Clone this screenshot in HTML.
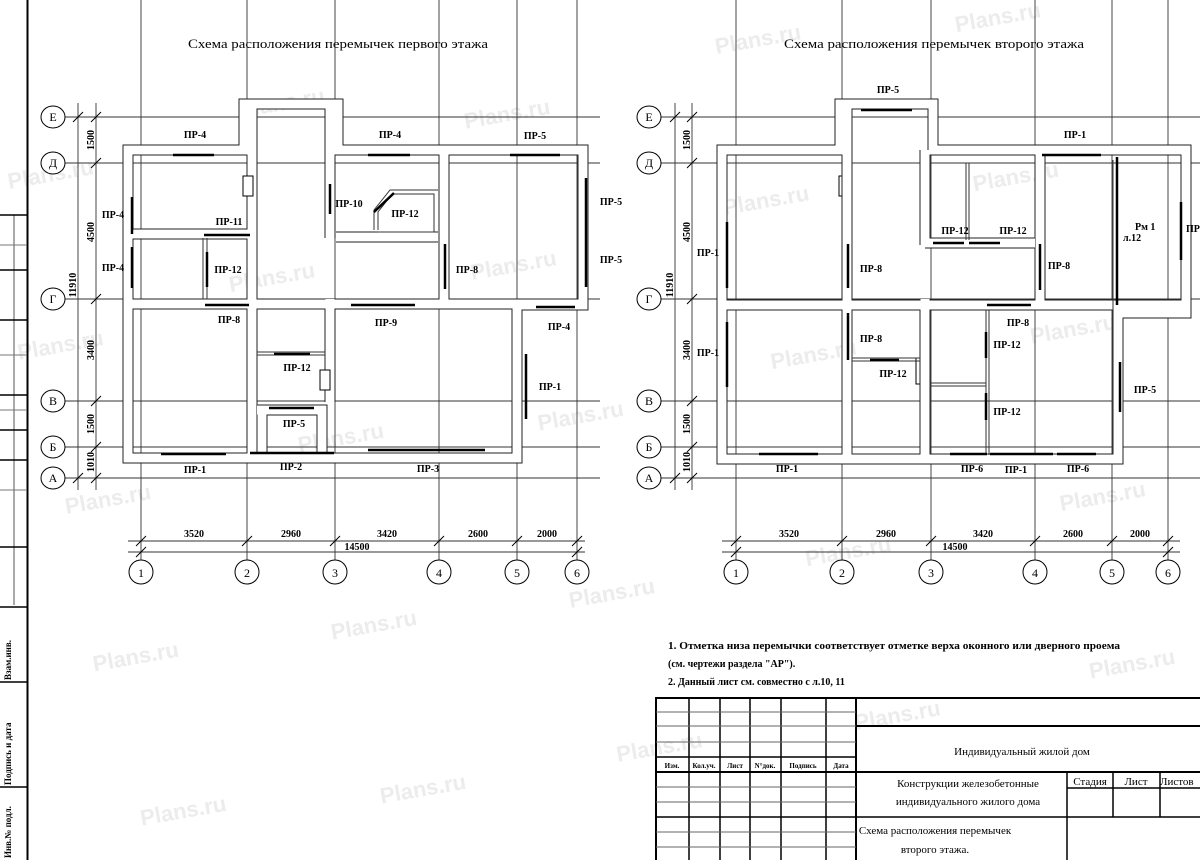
<!DOCTYPE html>
<html><head><meta charset="utf-8">
<style>
html,body{margin:0;padding:0;background:#fff;width:1200px;height:860px;overflow:hidden;}
svg{display:block;}
text{font-family:"Liberation Serif","Noto Serif CJK SC",serif;fill:#000;}
.lb{font-size:10px;font-weight:bold;}
.dm{font-size:10px;font-weight:bold;}
.ax{font-size:12px;}
.wm{font-family:"Liberation Sans",sans-serif;font-size:22px;font-weight:bold;fill:#ececec;}
</style></head><body>
<svg width="1200" height="860" viewBox="0 0 1200 860" xmlns="http://www.w3.org/2000/svg">
<rect width="1200" height="860" fill="#fff"/>
<g transform="rotate(-10 600 430)">
<text class="wm" x="60" y="90">Plans.ru</text><text class="wm" x="300" y="60">Plans.ru</text><text class="wm" x="520" y="110">Plans.ru</text><text class="wm" x="780" y="80">Plans.ru</text><text class="wm" x="1020" y="100">Plans.ru</text>
<text class="wm" x="40" y="260">Plans.ru</text><text class="wm" x="260" y="230">Plans.ru</text><text class="wm" x="500" y="260">Plans.ru</text><text class="wm" x="760" y="240">Plans.ru</text><text class="wm" x="1010" y="260">Plans.ru</text>
<text class="wm" x="60" y="420">Plans.ru</text><text class="wm" x="300" y="400">Plans.ru</text><text class="wm" x="540" y="420">Plans.ru</text><text class="wm" x="780" y="400">Plans.ru</text><text class="wm" x="1040" y="420">Plans.ru</text>
<text class="wm" x="60" y="580">Plans.ru</text><text class="wm" x="300" y="590">Plans.ru</text><text class="wm" x="540" y="600">Plans.ru</text><text class="wm" x="780" y="600">Plans.ru</text><text class="wm" x="1040" y="590">Plans.ru</text>
<text class="wm" x="80" y="740">Plans.ru</text><text class="wm" x="320" y="760">Plans.ru</text><text class="wm" x="560" y="760">Plans.ru</text><text class="wm" x="800" y="770">Plans.ru</text><text class="wm" x="1040" y="760">Plans.ru</text>
</g>

<g stroke="#000" fill="none">
<line x1="27.5" y1="0" x2="27.5" y2="860" stroke-width="2"/>
<line x1="14" y1="215" x2="14" y2="605" stroke-width="1" stroke="#555"/>
<g stroke-width="1.5">
<line x1="0" y1="215" x2="27" y2="215"/><line x1="0" y1="270" x2="27" y2="270"/><line x1="0" y1="320" x2="27" y2="320"/><line x1="0" y1="395" x2="27" y2="395"/><line x1="0" y1="430" x2="27" y2="430"/><line x1="0" y1="460" x2="27" y2="460"/><line x1="0" y1="547" x2="27" y2="547"/><line x1="0" y1="607" x2="27" y2="607"/><line x1="0" y1="682" x2="27" y2="682"/><line x1="0" y1="787" x2="27" y2="787"/>
</g>
<g stroke-width="1" stroke="#777"><line x1="0" y1="245" x2="27" y2="245"/><line x1="0" y1="355" x2="27" y2="355"/><line x1="0" y1="410" x2="27" y2="410"/><line x1="0" y1="490" x2="27" y2="490"/></g>
</g>
<text transform="translate(11 680) rotate(-90)" style="font-size:9px;font-weight:bold">Взам.инв.</text>
<text transform="translate(11 785) rotate(-90)" style="font-size:9px;font-weight:bold">Подпись и дата</text>
<text transform="translate(11 858) rotate(-90)" style="font-size:9px;font-weight:bold">Инв.№ подл.</text>

<text x="188" y="48" style="font-size:13px" textLength="300" lengthAdjust="spacingAndGlyphs">Схема расположения перемычек первого этажа</text>
<text x="784" y="48" style="font-size:13px" textLength="300" lengthAdjust="spacingAndGlyphs">Схема расположения перемычек второго этажа</text>

<!-- LEFT PLAN -->
<g stroke="#333" stroke-width="0.9" fill="none">
<line x1="141" y1="0" x2="141" y2="560"/><line x1="247" y1="0" x2="247" y2="560"/><line x1="335" y1="0" x2="335" y2="560"/><line x1="439" y1="0" x2="439" y2="560"/><line x1="517" y1="0" x2="517" y2="560"/><line x1="577" y1="0" x2="577" y2="560"/>
<line x1="65" y1="117" x2="600" y2="117"/><line x1="65" y1="163" x2="600" y2="163"/><line x1="65" y1="299" x2="600" y2="299"/><line x1="65" y1="401" x2="600" y2="401"/><line x1="65" y1="447" x2="600" y2="447"/><line x1="65" y1="478" x2="600" y2="478"/>
<line x1="78" y1="103" x2="78" y2="490"/><line x1="96" y1="103" x2="96" y2="490"/>
<line x1="128" y1="541" x2="585" y2="541"/><line x1="128" y1="552" x2="585" y2="552"/>
</g>
<g stroke="#000" stroke-width="1">
<line x1="73" y1="122" x2="83" y2="112"/><line x1="73" y1="483" x2="83" y2="473"/>
<line x1="91" y1="122" x2="101" y2="112"/><line x1="91" y1="168" x2="101" y2="158"/><line x1="91" y1="304" x2="101" y2="294"/><line x1="91" y1="406" x2="101" y2="396"/><line x1="91" y1="452" x2="101" y2="442"/><line x1="91" y1="483" x2="101" y2="473"/>
<line x1="136" y1="546" x2="146" y2="536"/><line x1="242" y1="546" x2="252" y2="536"/><line x1="330" y1="546" x2="340" y2="536"/><line x1="434" y1="546" x2="444" y2="536"/><line x1="512" y1="546" x2="522" y2="536"/><line x1="572" y1="546" x2="582" y2="536"/>
<line x1="136" y1="557" x2="146" y2="547"/><line x1="572" y1="557" x2="582" y2="547"/>
</g>
<g fill="#fff" stroke="#000" stroke-width="1">
<ellipse cx="53" cy="117" rx="12" ry="11"/><ellipse cx="53" cy="163" rx="12" ry="11"/><ellipse cx="53" cy="299" rx="12" ry="11"/><ellipse cx="53" cy="401" rx="12" ry="11"/><ellipse cx="53" cy="447" rx="12" ry="11"/><ellipse cx="53" cy="478" rx="12" ry="11"/>
<ellipse cx="141" cy="572" rx="12" ry="12"/><ellipse cx="247" cy="572" rx="12" ry="12"/><ellipse cx="335" cy="572" rx="12" ry="12"/><ellipse cx="439" cy="572" rx="12" ry="12"/><ellipse cx="517" cy="572" rx="12" ry="12"/><ellipse cx="577" cy="572" rx="12" ry="12"/>
</g>
<g class="ax" text-anchor="middle">
<text x="53" y="121">Е</text><text x="53" y="167">Д</text><text x="53" y="303">Г</text><text x="53" y="405">В</text><text x="53" y="451">Б</text><text x="53" y="482">А</text>
<text x="141" y="577">1</text><text x="247" y="577">2</text><text x="335" y="577">3</text><text x="439" y="577">4</text><text x="517" y="577">5</text><text x="577" y="577">6</text>
</g>
<g class="dm" text-anchor="middle">
<text x="194" y="537">3520</text><text x="291" y="537">2960</text><text x="387" y="537">3420</text><text x="478" y="537">2600</text><text x="547" y="537">2000</text><text x="357" y="550">14500</text>
<text transform="translate(94 140) rotate(-90)">1500</text><text transform="translate(94 232) rotate(-90)">4500</text><text transform="translate(94 350) rotate(-90)">3400</text><text transform="translate(94 424) rotate(-90)">1500</text><text transform="translate(94 462) rotate(-90)">1010</text><text transform="translate(76 285) rotate(-90)">11910</text>
</g>
<g fill="none" stroke-linejoin="miter">
<g stroke="#222" stroke-width="11">
<path d="M128 458 L128 150 L244 150 L244 104 L338 104 L338 150 L583 150 L583 305 L517 305 L517 458 Z"/>
<path d="M252 104 L252 458"/><path d="M330 104 L330 238"/><path d="M330 299 L330 402"/>
<path d="M128 304 L583 304"/><path d="M128 234 L252 234"/><path d="M444 150 L444 305"/>
<path d="M336 237 L438 237"/><path d="M257 410 L322 410 L322 458"/><path d="M262 410 L262 458"/>
</g>
<g stroke="#fff" stroke-width="9">
<path d="M128 458 L128 150 L244 150 L244 104 L338 104 L338 150 L583 150 L583 305 L517 305 L517 458 Z"/>
<path d="M252 104 L252 458"/><path d="M330 104 L330 238"/><path d="M330 299 L330 402"/>
<path d="M128 304 L583 304"/><path d="M128 234 L252 234"/><path d="M444 150 L444 305"/>
<path d="M336 237 L438 237"/><path d="M257 410 L322 410 L322 458"/><path d="M262 410 L262 458"/>
</g>
<g stroke="#333" stroke-width="1">
<line x1="207" y1="238" x2="207" y2="299"/><line x1="203" y1="238" x2="203" y2="299"/>
<line x1="257" y1="352" x2="325" y2="352"/><line x1="257" y1="355" x2="325" y2="355"/>
<path d="M374 230 L374 210 L390 190 L438 190"/><path d="M378 230 L378 212 L392 194 L434 194 L434 232 L378 232"/>
</g>
</g>
<g fill="#fff" stroke="#000" stroke-width="1">
<rect x="243" y="176" width="10" height="20"/><rect x="320" y="370" width="10" height="20"/>
<rect x="839" y="176" width="10" height="20"/><rect x="916" y="358" width="10" height="26"/>
</g>
<g stroke="#000" stroke-width="2.5">
<line x1="173" y1="155" x2="214" y2="155"/><line x1="368" y1="155" x2="410" y2="155"/><line x1="510" y1="155" x2="560" y2="155"/>
<line x1="132" y1="197" x2="132" y2="234"/><line x1="132" y1="247" x2="132" y2="288"/>
<line x1="204" y1="235" x2="250" y2="235"/><line x1="207" y1="252" x2="207" y2="287"/>
<line x1="205" y1="305" x2="249" y2="305"/><line x1="330" y1="184" x2="330" y2="214"/>
<line x1="394" y1="193" x2="374" y2="212"/><line x1="445" y1="244" x2="445" y2="289"/>
<line x1="351" y1="305" x2="415" y2="305"/><line x1="536" y1="307" x2="575" y2="307"/>
<line x1="526" y1="354" x2="526" y2="419"/><line x1="586" y1="178" x2="586" y2="287"/>
<line x1="274" y1="354" x2="310" y2="354"/><line x1="269" y1="408" x2="314" y2="408"/>
<line x1="161" y1="454" x2="226" y2="454"/><line x1="250" y1="453" x2="334" y2="453"/><line x1="368" y1="450" x2="485" y2="450"/>
</g>
<g class="lb" text-anchor="middle">
<text x="195" y="138">ПР-4</text><text x="390" y="138">ПР-4</text><text x="535" y="139">ПР-5</text>
<text x="113" y="218">ПР-4</text><text x="113" y="271">ПР-4</text><text x="229" y="225">ПР-11</text><text x="228" y="273">ПР-12</text>
<text x="229" y="323">ПР-8</text><text x="349" y="207">ПР-10</text><text x="405" y="217">ПР-12</text><text x="467" y="273">ПР-8</text>
<text x="386" y="326">ПР-9</text><text x="559" y="330">ПР-4</text><text x="550" y="390">ПР-1</text>
<text x="611" y="205">ПР-5</text><text x="611" y="263">ПР-5</text>
<text x="297" y="371">ПР-12</text><text x="294" y="427">ПР-5</text>
<text x="195" y="473">ПР-1</text><text x="291" y="470">ПР-2</text><text x="428" y="472">ПР-3</text>
</g>

<!-- RIGHT PLAN -->
<g stroke="#333" stroke-width="0.9" fill="none">
<line x1="736" y1="0" x2="736" y2="560"/><line x1="842" y1="0" x2="842" y2="560"/><line x1="931" y1="0" x2="931" y2="560"/><line x1="1035" y1="0" x2="1035" y2="560"/><line x1="1112" y1="0" x2="1112" y2="560"/><line x1="1168" y1="0" x2="1168" y2="560"/>
<line x1="660" y1="117" x2="1200" y2="117"/><line x1="660" y1="163" x2="1200" y2="163"/><line x1="660" y1="299" x2="1200" y2="299"/><line x1="660" y1="401" x2="1200" y2="401"/><line x1="660" y1="447" x2="1200" y2="447"/><line x1="660" y1="478" x2="1200" y2="478"/>
<line x1="675" y1="103" x2="675" y2="490"/><line x1="692" y1="103" x2="692" y2="490"/>
<line x1="722" y1="541" x2="1180" y2="541"/><line x1="722" y1="552" x2="1180" y2="552"/>
</g>
<g stroke="#000" stroke-width="1">
<line x1="670" y1="122" x2="680" y2="112"/><line x1="670" y1="483" x2="680" y2="473"/>
<line x1="687" y1="122" x2="697" y2="112"/><line x1="687" y1="168" x2="697" y2="158"/><line x1="687" y1="304" x2="697" y2="294"/><line x1="687" y1="406" x2="697" y2="396"/><line x1="687" y1="452" x2="697" y2="442"/><line x1="687" y1="483" x2="697" y2="473"/>
<line x1="731" y1="546" x2="741" y2="536"/><line x1="837" y1="546" x2="847" y2="536"/><line x1="926" y1="546" x2="936" y2="536"/><line x1="1030" y1="546" x2="1040" y2="536"/><line x1="1107" y1="546" x2="1117" y2="536"/><line x1="1163" y1="546" x2="1173" y2="536"/>
<line x1="731" y1="557" x2="741" y2="547"/><line x1="1163" y1="557" x2="1173" y2="547"/>
</g>
<g fill="#fff" stroke="#000" stroke-width="1">
<ellipse cx="649" cy="117" rx="12" ry="11"/><ellipse cx="649" cy="163" rx="12" ry="11"/><ellipse cx="649" cy="299" rx="12" ry="11"/><ellipse cx="649" cy="401" rx="12" ry="11"/><ellipse cx="649" cy="447" rx="12" ry="11"/><ellipse cx="649" cy="478" rx="12" ry="11"/>
<ellipse cx="736" cy="572" rx="12" ry="12"/><ellipse cx="842" cy="572" rx="12" ry="12"/><ellipse cx="931" cy="572" rx="12" ry="12"/><ellipse cx="1035" cy="572" rx="12" ry="12"/><ellipse cx="1112" cy="572" rx="12" ry="12"/><ellipse cx="1168" cy="572" rx="12" ry="12"/>
</g>
<g class="ax" text-anchor="middle">
<text x="649" y="121">Е</text><text x="649" y="167">Д</text><text x="649" y="303">Г</text><text x="649" y="405">В</text><text x="649" y="451">Б</text><text x="649" y="482">А</text>
<text x="736" y="577">1</text><text x="842" y="577">2</text><text x="931" y="577">3</text><text x="1035" y="577">4</text><text x="1112" y="577">5</text><text x="1168" y="577">6</text>
</g>
<g class="dm" text-anchor="middle">
<text x="789" y="537">3520</text><text x="886" y="537">2960</text><text x="983" y="537">3420</text><text x="1073" y="537">2600</text><text x="1140" y="537">2000</text><text x="955" y="550">14500</text>
<text transform="translate(690 140) rotate(-90)">1500</text><text transform="translate(690 232) rotate(-90)">4500</text><text transform="translate(690 350) rotate(-90)">3400</text><text transform="translate(690 424) rotate(-90)">1500</text><text transform="translate(690 462) rotate(-90)">1010</text><text transform="translate(673 285) rotate(-90)">11910</text>
</g>
<g fill="none">
<g stroke="#222" stroke-width="11">
<path d="M722 459 L722 150 L840 150 L840 104 L933 104 L933 150 L1186 150 L1186 313 L1118 313 L1118 459 Z"/>
<path d="M847 104 L847 459"/><path d="M925 150 L925 245"/><path d="M925 299 L925 459"/>
<path d="M722 305 L1186 305"/><path d="M1040 150 L1040 305"/><path d="M925 243 L1035 243"/>
</g>
<g stroke="#fff" stroke-width="9">
<path d="M722 459 L722 150 L840 150 L840 104 L933 104 L933 150 L1186 150 L1186 313 L1118 313 L1118 459 Z"/>
<path d="M847 104 L847 459"/><path d="M925 150 L925 245"/><path d="M925 299 L925 459"/>
<path d="M722 305 L1186 305"/><path d="M1040 150 L1040 305"/><path d="M925 243 L1035 243"/>
</g>
<g stroke="#333" stroke-width="1">
<line x1="966" y1="163" x2="966" y2="240"/><line x1="969" y1="163" x2="969" y2="240"/>
<line x1="986" y1="310" x2="986" y2="455"/><line x1="989" y1="310" x2="989" y2="455"/>
<line x1="852" y1="358" x2="920" y2="358"/><line x1="852" y1="361" x2="920" y2="361"/>
<line x1="930" y1="383" x2="986" y2="383"/><line x1="930" y1="386" x2="986" y2="386"/>
<line x1="1113" y1="160" x2="1113" y2="310"/>
</g>
</g>
<g stroke="#000" stroke-width="2.5">
<line x1="861" y1="110" x2="912" y2="110"/><line x1="1042" y1="155" x2="1101" y2="155"/>
<line x1="727" y1="222" x2="727" y2="288"/><line x1="727" y1="322" x2="727" y2="387"/>
<line x1="848" y1="244" x2="848" y2="288"/><line x1="848" y1="313" x2="848" y2="360"/>
<line x1="933" y1="243" x2="964" y2="243"/><line x1="969" y1="243" x2="1000" y2="243"/>
<line x1="1040" y1="244" x2="1040" y2="290"/><line x1="1117" y1="157" x2="1117" y2="305"/>
<line x1="1181" y1="202" x2="1181" y2="260"/><line x1="987" y1="305" x2="1031" y2="305"/>
<line x1="986" y1="332" x2="986" y2="358"/><line x1="986" y1="393" x2="986" y2="420"/>
<line x1="870" y1="360" x2="899" y2="360"/><line x1="1120" y1="362" x2="1120" y2="412"/>
<line x1="759" y1="454" x2="818" y2="454"/><line x1="950" y1="454" x2="987" y2="454"/><line x1="990" y1="454" x2="1053" y2="454"/><line x1="1057" y1="454" x2="1096" y2="454"/>
</g>
<g class="lb" text-anchor="middle">
<text x="888" y="93">ПР-5</text><text x="1075" y="138">ПР-1</text>
<text x="708" y="256">ПР-1</text><text x="708" y="356">ПР-1</text>
<text x="871" y="272">ПР-8</text><text x="871" y="342">ПР-8</text>
<text x="955" y="234">ПР-12</text><text x="1013" y="234">ПР-12</text><text x="1059" y="269">ПР-8</text>
<text x="1135" y="230" text-anchor="start">Рм 1</text><text x="1123" y="241" text-anchor="start">л.12</text>
<text x="1186" y="232" text-anchor="start">ПР-</text>
<text x="1018" y="326">ПР-8</text><text x="1007" y="348">ПР-12</text><text x="1007" y="415">ПР-12</text>
<text x="893" y="377">ПР-12</text><text x="1145" y="393">ПР-5</text>
<text x="787" y="472">ПР-1</text><text x="972" y="472">ПР-6</text><text x="1016" y="473">ПР-1</text><text x="1078" y="472">ПР-6</text>
</g>

<g style="font-size:10px;font-weight:bold">
<text x="668" y="649" textLength="452" lengthAdjust="spacingAndGlyphs">1. Отметка низа перемычки соответствует отметке верха оконного или дверного проема</text>
<text x="668" y="667">(см. чертежи раздела "АР").</text>
<text x="668" y="685">2. Данный лист см. совместно с л.10, 11</text>
</g>

<g stroke="#000" fill="none">
<line x1="655" y1="698" x2="1200" y2="698" stroke-width="2"/>
<line x1="656" y1="698" x2="656" y2="860" stroke-width="2"/>
<line x1="689" y1="698" x2="689" y2="860" stroke-width="1.5"/>
<line x1="720" y1="698" x2="720" y2="860" stroke-width="1.5"/>
<line x1="750" y1="698" x2="750" y2="860" stroke-width="1.5"/>
<line x1="781" y1="698" x2="781" y2="860" stroke-width="1.5"/>
<line x1="826" y1="698" x2="826" y2="860" stroke-width="1.5"/>
<line x1="856" y1="698" x2="856" y2="860" stroke-width="2"/>
<g stroke="#666" stroke-width="1">
<line x1="656" y1="712" x2="856" y2="712"/><line x1="656" y1="726" x2="856" y2="726"/><line x1="656" y1="742" x2="856" y2="742"/><line x1="656" y1="787" x2="856" y2="787"/><line x1="656" y1="802" x2="856" y2="802"/><line x1="656" y1="832" x2="856" y2="832"/><line x1="656" y1="847" x2="856" y2="847"/>
</g>
<line x1="656" y1="757" x2="856" y2="757" stroke-width="1.5"/>
<line x1="656" y1="772" x2="1200" y2="772" stroke-width="2"/>
<line x1="656" y1="817" x2="1067" y2="817" stroke-width="1.5"/>
<line x1="856" y1="726" x2="1200" y2="726" stroke-width="2"/>
<line x1="1067" y1="772" x2="1067" y2="860" stroke-width="1.5"/>
<line x1="1113" y1="772" x2="1113" y2="817" stroke-width="1.5"/>
<line x1="1160" y1="772" x2="1160" y2="817" stroke-width="1.5"/>
<line x1="1067" y1="788" x2="1200" y2="788" stroke-width="1.5"/>
<line x1="1067" y1="817" x2="1200" y2="817" stroke-width="1.5"/>
</g>
<g style="font-size:7px;font-weight:bold" text-anchor="middle">
<text x="672" y="768">Изм.</text><text x="704" y="768">Кол.уч.</text><text x="735" y="768">Лист</text><text x="765" y="768">N°док.</text><text x="803" y="768">Подпись</text><text x="841" y="768">Дата</text>
</g>
<g style="font-size:11px" text-anchor="middle">
<text x="1022" y="755">Индивидуальный жилой дом</text>
<text x="968" y="787">Конструкции железобетонные</text>
<text x="968" y="805">индивидуального жилого дома</text>
<text x="935" y="834">Схема расположения перемычек</text>
<text x="935" y="853">второго этажа.</text>
<text x="1090" y="785">Стадия</text><text x="1136" y="785">Лист</text><text x="1160" y="785" text-anchor="start">Листов</text>
</g>
</svg>
</body></html>
